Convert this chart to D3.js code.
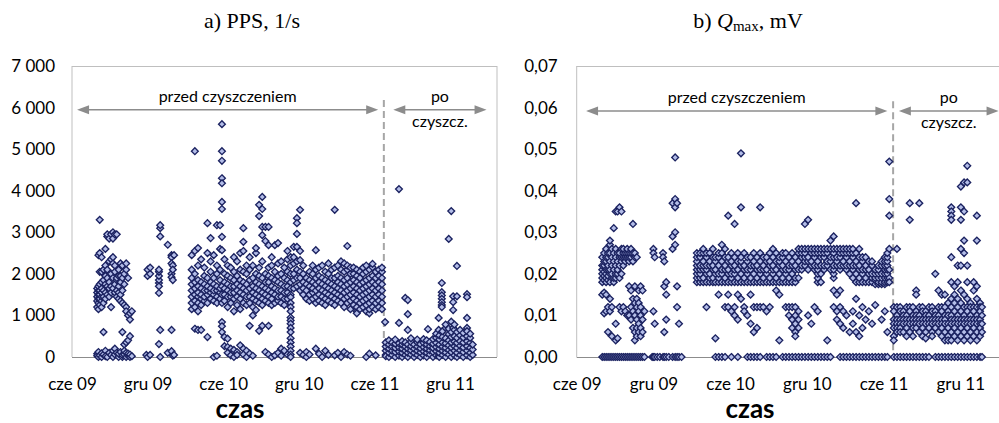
<!DOCTYPE html>
<html>
<head>
<meta charset="utf-8">
<script src="https://cdn.jsdelivr.net/npm/d3@7"></script>
<style>
  body { margin: 0; background: #fff; }
  svg { display: block; font-family: Lato, "Open Sans", sans-serif; }
</style>
</head>
<body>
<svg id="chart" width="999" height="423"></svg>
<script>
// months counted from June 2009 (cze 09 = 0)
const tickMonths = [0, 6, 12, 18, 24, 30]
const tickLabels = ['cze 09', 'gru 09', 'cze 10', 'gru 10', 'cze 11', 'gru 11']
const cleaningMonth = 24.75

const ppsTicks = [0, 1000, 2000, 3000, 4000, 5000, 6000, 7000]
const qmaxTicks = [0, 0.01, 0.02, 0.03, 0.04, 0.05, 0.06, 0.07]

// PPS, 1/s  -> [month, [values]]
const ppsLato09 = [
  [2.0, [1200, 1350, 1450, 1550, 1650, 80, 30]],
  [2.1, [1150, 1300, 1400, 1500, 1600, 1700, 2450, 0, 120]],
  [2.2, [3300, 1250, 1400, 1500, 1600, 1750, 2050, 2500, 40]],
  [2.35, [1200, 1350, 1450, 1550, 1650, 1800, 2050, 2400, 0, 90]],
  [2.5, [1300, 1450, 1600, 1850, 2100, 600, 60]],
  [2.65, [1400, 1550, 1750, 1950, 2200, 2600, 150, 20]],
  [2.8, [1500, 1700, 1900, 2100, 2900, 2950, 0]],
  [2.95, [1450, 1650, 1800, 2300, 2850, 100]],
  [3.1, [1550, 1700, 2000, 2350, 2950, 1200, 50]],
  [3.25, [1650, 1900, 2250, 2400, 2850, 3000, 0, 150]],
  [3.4, [1750, 1550, 2200, 2050, 2950, 200, 60]],
  [3.55, [1850, 1600, 1900, 2950, 1450, 100]],
  [3.7, [1700, 1950, 1550, 1400, 2100, 0, 80]],
  [3.85, [1800, 1500, 1350, 1950, 2250, 120]],
  [4.0, [1300, 1900, 2200, 1600, 600, 0, 50]],
  [4.15, [1250, 2000, 1750, 300, 60, 150]],
  [4.3, [1200, 2100, 2250, 1100, 350, 0, 100]],
  [4.45, [1000, 1900, 400, 30, 80]],
  [4.6, [900, 1050, 500, 0, 60]],
  [4.75, [1100, 20]]
]
const ppsZima09 = [
  [5.9, [50]],
  [6.0, [2100, 1950, 0]],
  [6.2, [2000, 2150, 50]],
  [6.9, [1780, 1850, 1950, 2050, 2100, 1700, 1540, 310]],
  [7.0, [2900, 3100, 3170, 650, 0]],
  [7.6, [2700, 100]],
  [7.9, [2450, 2400, 2250, 2000, 1920, 650, 140]],
  [8.0, [2200, 2100, 1850, 30]],
  [8.1, [2450, 50]]
]
const ppsPrzed = [
  [9.5, [1150, 1300, 1450, 1600, 1750, 1900, 2100, 2450]],
  [9.75, [1200, 1350, 1500, 1650, 1800, 2000, 2550, 4950, 680]],
  [10.0, [1100, 1300, 1450, 1550, 1700, 1850, 2200, 2620, 650]],
  [10.25, [1250, 1400, 1500, 1650, 1800, 2350, 650]],
  [10.5, [1350, 1450, 1600, 1750, 1950, 2150]],
  [10.75, [1300, 1500, 1600, 1700, 1900, 2500, 3220, 480]],
  [11.0, [1400, 1550, 1650, 1800, 2050, 2300, 2860]],
  [11.25, [1350, 1500, 1600, 1750, 1900, 2450, 0]],
  [11.5, [1300, 1450, 1600, 1700, 2000, 2200, 3170, 30]],
  [11.75, [1400, 1550, 1650, 1850, 2100, 2600, 3170]],
  [11.9, [5600, 4950, 4720, 4300, 4180, 3730, 3560, 2890, 2570, 1300, 1500, 1700, 840, 740, 600]],
  [12.1, [1350, 1500, 1650, 1800, 2000, 2350, 480, 260]],
  [12.35, [1200, 1450, 1600, 1750, 1950, 2200, 440, 240, 100]],
  [12.6, [1300, 1450, 1550, 1700, 1900, 2150, 200, 40]],
  [12.85, [1100, 1400, 1550, 1700, 1850, 2050, 2400, 170, 0]],
  [13.1, [1250, 1450, 1600, 1750, 1950, 2300, 120, 50]],
  [13.35, [1150, 1400, 1550, 1700, 1850, 2100, 2500, 280]],
  [13.6, [1300, 1500, 1650, 1800, 2050, 2550, 3100, 2770, 200, 60]],
  [13.85, [1250, 1450, 1600, 1750, 2000, 2200, 150, 0]],
  [14.1, [1300, 1450, 1650, 1850, 2100, 2400, 750, 80]],
  [14.35, [1200, 1400, 1550, 1700, 1900, 2200, 1000, 30]],
  [14.6, [1350, 1500, 1650, 1800, 2000, 2500, 2620, 1130]],
  [14.85, [1300, 1450, 1600, 1750, 1950, 2150, 630, 3660, 3390]],
  [15.1, [1250, 1400, 1550, 1700, 1900, 2300, 3850, 3560, 3130, 2930, 750]],
  [15.35, [1350, 1500, 1650, 1800, 2000, 2790, 3130, 120]],
  [15.6, [1300, 1450, 1600, 1800, 1950, 2150, 2690, 3130, 750, 60]],
  [15.85, [1250, 1400, 1550, 1700, 1900, 2200, 2400, 0]],
  [16.1, [1300, 1500, 1650, 1850, 2050, 2690, 40]],
  [16.35, [1350, 1450, 1600, 1800, 1950, 2250, 2740, 100]],
  [16.6, [1300, 1450, 1600, 1750, 2000, 2300, 200, 30]],
  [16.85, [1250, 1400, 1550, 1700, 1900, 2150, 150]],
  [17.1, [1400, 1550, 1700, 1850, 2050, 2350, 2550, 60]],
  [17.35, [1500, 1650, 1800, 2000, 2200, 2400, 1440, 1300, 1200, 1100, 950, 880, 800, 700, 600, 450, 350, 250, 150, 60, 0]],
  [17.6, [1650, 1850, 2000, 2250, 2650, 2400]],
  [17.85, [1700, 1900, 2100, 2300, 2960, 3340, 3220, 2650]],
  [18.1, [1600, 1750, 1900, 2050, 3540, 2550, 2330, 100]],
  [18.35, [1500, 1650, 1800, 2000, 2200, 50]],
  [18.6, [1400, 1600, 1750, 1900, 0, 120]],
  [18.85, [1350, 1500, 1700, 1850, 2050, 60]],
  [19.1, [1400, 1550, 1650, 1800, 2000, 2200]],
  [19.35, [1300, 1450, 1600, 1750, 1900, 2100, 2570, 200]],
  [19.6, [1350, 1500, 1650, 1800, 1950, 2150, 80]],
  [19.85, [1300, 1450, 1600, 1750, 1900, 2200, 0]],
  [20.1, [1250, 1400, 1550, 1700, 1850, 2050, 150]],
  [20.35, [1350, 1500, 1650, 1800, 2000, 2250, 50]],
  [20.6, [1300, 1450, 1600, 1750, 1900, 2100]],
  [20.85, [1250, 1400, 1550, 1700, 1900, 2150, 3540, 40]],
  [21.1, [1350, 1500, 1650, 1800, 1950, 2200, 100]],
  [21.35, [1300, 1450, 1600, 1750, 1900, 2100, 2300, 0]],
  [21.6, [1200, 1400, 1550, 1700, 1850, 2050, 2250, 120]],
  [21.85, [1300, 1450, 1600, 1750, 1900, 2100, 2200, 2670, 60]],
  [22.1, [1150, 1350, 1500, 1650, 1800, 2000, 2150, 30]],
  [22.35, [1250, 1400, 1550, 1700, 1850, 2000, 2150]],
  [22.6, [1100, 1200, 1350, 1500, 1650, 1800, 1950, 2100, 1050]],
  [22.85, [1150, 1300, 1450, 1600, 1750, 1900, 2050]],
  [23.1, [1200, 1350, 1500, 1650, 1800, 2000, 2150]],
  [23.35, [1100, 1250, 1400, 1550, 1700, 1850, 2050, 2200, 0]],
  [23.6, [1050, 1150, 1300, 1450, 1600, 1750, 1900, 2100, 80]],
  [23.85, [1200, 1350, 1500, 1650, 1800, 1950, 2160, 2240]],
  [24.1, [1150, 1300, 1450, 1600, 1750, 1900, 2050, 40]],
  [24.35, [1200, 1350, 1500, 1650, 1800, 1950, 2100]],
  [24.6, [1150, 1300, 1450, 1600, 1750, 1900, 2050, 2150]],
  [24.85, [840]]
]
const ppsPo = [
  [24.9, [50, 150, 250, 350, 20]],
  [25.15, [0, 100, 200, 300, 400]],
  [25.4, [50, 150, 250, 350]],
  [25.65, [0, 120, 220, 320, 420]],
  [25.95, [30, 130, 230, 330, 4040, 820]],
  [26.2, [0, 100, 200, 300, 380]],
  [26.45, [50, 150, 250, 350, 1420]],
  [26.65, [0, 100, 200, 300, 1370, 1030, 650]],
  [26.9, [60, 160, 260, 360, 450]],
  [27.15, [0, 100, 200, 300]],
  [27.4, [50, 150, 250, 350, 420]],
  [27.65, [0, 110, 210, 310]],
  [27.9, [40, 140, 240, 340, 430]],
  [28.15, [0, 100, 200, 300, 400]],
  [28.25, [670]],
  [28.4, [60, 160, 260, 360]],
  [28.65, [0, 120, 220, 320, 430]],
  [28.9, [40, 140, 240, 340, 460, 560]],
  [29.1, [940, 650, 20]],
  [29.15, [0, 100, 200, 300, 420, 520]],
  [29.35, [1780, 1560, 1480, 1400, 1320, 1250, 1200, 600]],
  [29.4, [50, 150, 250, 350, 480, 620]],
  [29.65, [0, 110, 220, 330, 450, 700, 780]],
  [29.9, [2840, 60, 170, 280, 400, 550, 680]],
  [30.1, [3510, 0, 120, 230, 350, 480, 600, 850]],
  [30.25, [1460, 1320, 1130, 700]],
  [30.35, [40, 150, 260, 370, 500, 650, 780]],
  [30.55, [2190, 1460, 0, 100, 220, 340, 460, 600]],
  [30.8, [50, 160, 270, 380, 520, 650]],
  [31.05, [0, 120, 230, 350, 470, 580]],
  [31.35, [1510, 1440, 940, 700, 40, 150, 260, 380, 500, 620]],
  [31.6, [0, 100, 220, 340, 460, 560]],
  [31.8, [50, 180, 300]]
]

// Qmax, mV -> [month, [values]]
const qmaxLato09 = [
  [2.0, [0.018, 0.019, 0.020, 0.021, 0.022, 0.024, 0.015, 0]],
  [2.15, [0.0185, 0.0195, 0.0205, 0.022, 0.023, 0.025, 0.0155, 0.0105, 0]],
  [2.3, [0.018, 0.019, 0.020, 0.021, 0.023, 0.024, 0.026, 0.015, 0.011, 0]],
  [2.45, [0.0185, 0.0195, 0.021, 0.022, 0.024, 0.025, 0.012, 0.006, 0]],
  [2.6, [0.018, 0.020, 0.021, 0.023, 0.025, 0.027, 0.028, 0.014, 0.011, 0]],
  [2.75, [0.019, 0.020, 0.022, 0.024, 0.026, 0.012, 0.005, 0]],
  [2.9, [0.018, 0.019, 0.021, 0.023, 0.025, 0.031, 0]],
  [3.05, [0.019, 0.020, 0.022, 0.024, 0.026, 0.035, 0.008, 0.004, 0]],
  [3.2, [0.020, 0.021, 0.023, 0.025, 0.035, 0.0045, 0]],
  [3.35, [0.019, 0.022, 0.024, 0.025, 0.036, 0.012, 0]],
  [3.5, [0.020, 0.023, 0.024, 0.026, 0.035, 0.011, 0]],
  [3.65, [0.022, 0.024, 0.025, 0.026, 0.012, 0]],
  [3.8, [0.023, 0.024, 0.025, 0.011, 0]],
  [3.95, [0.024, 0.025, 0.026, 0.010, 0]],
  [4.1, [0.023, 0.024, 0.025, 0.017, 0.010, 0]],
  [4.25, [0.024, 0.025, 0.026, 0.016, 0.012, 0.009, 0]],
  [4.4, [0.023, 0.025, 0.032, 0.014, 0.011, 0.007, 0]],
  [4.55, [0.024, 0.025, 0.017, 0.013, 0.010, 0.006, 0.004, 0]],
  [4.7, [0.024, 0.014, 0.012, 0.009, 0.007, 0.005, 0]],
  [4.85, [0.016, 0.013, 0.011, 0.008, 0.006, 0]],
  [5.0, [0.017, 0.012, 0.010, 0.007, 0.005, 0]],
  [5.15, [0.016, 0.009, 0.006, 0]],
  [5.3, [0.011, 0]]
]
const qmaxZima09 = [
  [5.9, [0]],
  [6.0, [0.026, 0.025, 0.011, 0]],
  [6.1, [0.024, 0.008, 0]],
  [6.3, [0]],
  [6.5, [0]],
  [6.75, [0.025, 0.024, 0]],
  [6.85, [0.023, 0.017, 0.006, 0]],
  [7.0, [0.018, 0.015, 0.009, 0]],
  [7.2, [0]],
  [7.5, [0.029, 0.026, 0.037, 0]],
  [7.7, [0.048, 0.038, 0.036, 0.030, 0.027, 0]],
  [7.85, [0.037, 0.017, 0.012, 0]],
  [8.0, [0.008, 0]],
  [8.2, [0]]
]
const qmaxPrzed = [
  [9.4, [0.018, 0.019, 0.020, 0.021, 0.022, 0.023, 0.024, 0.025]],
  [9.65, [0.018, 0.019, 0.020, 0.021, 0.022, 0.024, 0.025]],
  [9.9, [0.018, 0.019, 0.021, 0.022, 0.023, 0.025, 0.026]],
  [10.15, [0.018, 0.020, 0.021, 0.022, 0.024, 0.025, 0.012]],
  [10.4, [0.018, 0.019, 0.020, 0.022, 0.023, 0.025]],
  [10.65, [0.018, 0.019, 0.021, 0.022, 0.024, 0.026]],
  [10.85, [0.018, 0.020, 0.021, 0.023, 0.024, 0.0045, 0]],
  [11.1, [0.018, 0.019, 0.020, 0.022, 0.024, 0.025, 0.015, 0]],
  [11.35, [0.018, 0.020, 0.021, 0.023, 0.025, 0.027, 0]],
  [11.6, [0.018, 0.019, 0.021, 0.022, 0.024, 0.026, 0.012, 0]],
  [11.85, [0.018, 0.020, 0.021, 0.023, 0.024, 0.034, 0.015, 0.012]],
  [12.1, [0.018, 0.019, 0.020, 0.022, 0.023, 0.025, 0.011, 0]],
  [12.35, [0.018, 0.020, 0.021, 0.022, 0.024, 0.032, 0.012, 0.010]],
  [12.6, [0.018, 0.019, 0.021, 0.023, 0.025, 0.015, 0.009, 0]],
  [12.85, [0.018, 0.020, 0.022, 0.023, 0.024, 0.049, 0.036, 0.014]],
  [13.1, [0.018, 0.019, 0.021, 0.022, 0.025, 0.012, 0.011]],
  [13.35, [0.018, 0.020, 0.021, 0.023, 0.024, 0.010, 0]],
  [13.6, [0.018, 0.019, 0.021, 0.022, 0.024, 0.015, 0.008, 0]],
  [13.85, [0.018, 0.020, 0.022, 0.023, 0.025, 0.012, 0.006, 0]],
  [14.1, [0.018, 0.019, 0.021, 0.022, 0.024, 0.012, 0.007, 0]],
  [14.35, [0.018, 0.020, 0.021, 0.023, 0.025, 0.036, 0.012, 0]],
  [14.6, [0.018, 0.019, 0.021, 0.022, 0.024, 0.012]],
  [14.85, [0.018, 0.020, 0.021, 0.023, 0.024, 0.011, 0]],
  [15.1, [0.018, 0.019, 0.022, 0.023, 0.025, 0.012, 0]],
  [15.35, [0.018, 0.020, 0.021, 0.022, 0.024, 0.026, 0]],
  [15.6, [0.018, 0.019, 0.021, 0.023, 0.025, 0.016, 0]],
  [15.85, [0.018, 0.020, 0.022, 0.023, 0.024, 0.015, 0.004]],
  [16.1, [0.018, 0.019, 0.021, 0.022, 0.024, 0.025, 0]],
  [16.35, [0.018, 0.020, 0.021, 0.023, 0.025, 0.012, 0]],
  [16.6, [0.018, 0.019, 0.021, 0.022, 0.024, 0.012, 0.010, 0]],
  [16.85, [0.018, 0.020, 0.022, 0.023, 0.025, 0.012, 0.009, 0.007, 0]],
  [17.1, [0.018, 0.019, 0.021, 0.022, 0.024, 0.012, 0.010, 0.008, 0.006, 0.005, 0]],
  [17.35, [0.019, 0.021, 0.023, 0.025, 0.026, 0.011, 0.009, 0.007, 0]],
  [17.6, [0.021, 0.022, 0.024, 0.025, 0.026, 0]],
  [17.85, [0.022, 0.023, 0.024, 0.025, 0.026, 0.032, 0]],
  [18.1, [0.021, 0.023, 0.024, 0.026, 0.033, 0.010, 0]],
  [18.35, [0.022, 0.023, 0.025, 0.026, 0.008, 0]],
  [18.6, [0.021, 0.022, 0.024, 0.025, 0.026, 0.012, 0]],
  [18.85, [0.018, 0.019, 0.020, 0.021, 0.022, 0.023, 0.025, 0.026, 0.011, 0]],
  [19.1, [0.018, 0.020, 0.022, 0.024, 0.025, 0.026, 0]],
  [19.35, [0.021, 0.022, 0.024, 0.025, 0.026, 0]],
  [19.6, [0.022, 0.023, 0.025, 0.026, 0.004, 0]],
  [19.85, [0.021, 0.023, 0.024, 0.026, 0.028, 0]],
  [20.1, [0.019, 0.020, 0.021, 0.022, 0.024, 0.025, 0.026, 0.029, 0.016, 0.012]],
  [20.35, [0.022, 0.023, 0.024, 0.026, 0.015, 0.011, 0.009]],
  [20.6, [0.021, 0.022, 0.024, 0.025, 0.026, 0.016, 0.012, 0.008, 0]],
  [20.85, [0.022, 0.023, 0.025, 0.026, 0.011, 0.007, 0]],
  [21.1, [0.021, 0.022, 0.024, 0.025, 0.026, 0.010, 0]],
  [21.35, [0.020, 0.022, 0.023, 0.025, 0.026, 0.006, 0]],
  [21.6, [0.019, 0.021, 0.022, 0.024, 0.025, 0.026, 0.011, 0.008, 0]],
  [21.85, [0.018, 0.020, 0.022, 0.023, 0.025, 0.037, 0.014, 0.006, 0]],
  [22.1, [0.018, 0.019, 0.021, 0.022, 0.024, 0.026, 0.010, 0.005, 0]],
  [22.35, [0.018, 0.020, 0.021, 0.023, 0.024, 0.012, 0.007, 0]],
  [22.6, [0.018, 0.019, 0.021, 0.022, 0.024, 0.009, 0]],
  [22.85, [0.018, 0.020, 0.021, 0.023, 0.011, 0]],
  [23.1, [0.018, 0.019, 0.020, 0.022, 0.023, 0.008, 0]],
  [23.35, [0.0175, 0.0185, 0.019, 0.020, 0.021, 0.0125, 0]],
  [23.6, [0.0175, 0.018, 0.019, 0.020, 0.021, 0.022, 0]],
  [23.85, [0.0175, 0.018, 0.019, 0.020, 0.022, 0.023, 0.009, 0]],
  [24.1, [0.0175, 0.018, 0.019, 0.020, 0.021, 0.022, 0.023, 0.024, 0.011, 0]],
  [24.3, [0.018, 0.019, 0.020, 0.021, 0.022, 0.023, 0.024, 0.025, 0.006, 0]],
  [24.45, [0.047, 0.038, 0.034, 0.026, 0.021, 0.019, 0.018]]
]
const qmaxPo = [
  [24.8, [0.012, 0.011, 0.009, 0.008, 0.007, 0.005, 0.004, 0]],
  [25.05, [0.012, 0.010, 0.009, 0.008, 0.007, 0.006, 0.026, 0]],
  [25.3, [0.012, 0.011, 0.009, 0.008, 0.007, 0.006, 0]],
  [25.55, [0.011, 0.010, 0.009, 0.008, 0.006, 0]],
  [25.8, [0.012, 0.010, 0.009, 0.008, 0.007, 0.005, 0]],
  [26.05, [0.012, 0.011, 0.009, 0.008, 0.006, 0.037, 0.033, 0]],
  [26.3, [0.012, 0.010, 0.009, 0.008, 0.007, 0.005, 0]],
  [26.55, [0.011, 0.010, 0.009, 0.008, 0.007, 0.016, 0.015, 0]],
  [26.8, [0.012, 0.010, 0.009, 0.008, 0.006, 0.037, 0]],
  [27.05, [0.012, 0.011, 0.009, 0.008, 0.007, 0.005, 0]],
  [27.3, [0.011, 0.010, 0.009, 0.008, 0.006, 0.0045, 0]],
  [27.55, [0.012, 0.010, 0.009, 0.008, 0.007, 0]],
  [27.8, [0.012, 0.011, 0.009, 0.008, 0.006, 0.005]],
  [28.05, [0.011, 0.010, 0.009, 0.008, 0.007, 0.020, 0]],
  [28.3, [0.012, 0.010, 0.009, 0.008, 0.006, 0.016, 0]],
  [28.55, [0.012, 0.011, 0.009, 0.008, 0.007, 0.005, 0.015, 0]],
  [28.8, [0.012, 0.010, 0.009, 0.008, 0.006, 0.004, 0.015, 0]],
  [29.05, [0.013, 0.011, 0.010, 0.008, 0.007, 0.005, 0.004, 0]],
  [29.3, [0.014, 0.012, 0.010, 0.009, 0.008, 0.006, 0.004, 0.036, 0.035, 0.034, 0.033, 0.024, 0.018, 0]],
  [29.55, [0.015, 0.013, 0.011, 0.009, 0.008, 0.007, 0.005, 0.017, 0]],
  [29.8, [0.014, 0.012, 0.010, 0.009, 0.008, 0.006, 0.004, 0.022, 0.018, 0]],
  [30.05, [0.016, 0.013, 0.011, 0.009, 0.008, 0.007, 0.005, 0.041, 0.036, 0.033, 0.026, 0.022, 0]],
  [30.3, [0.015, 0.012, 0.010, 0.009, 0.008, 0.006, 0.004, 0.042, 0.035, 0.028, 0.025, 0]],
  [30.55, [0.014, 0.012, 0.011, 0.009, 0.008, 0.007, 0.005, 0.046, 0.042, 0.022, 0.018, 0]],
  [30.8, [0.013, 0.012, 0.010, 0.009, 0.008, 0.006, 0.004, 0]],
  [31.05, [0.016, 0.012, 0.011, 0.009, 0.008, 0.007, 0.005, 0.018, 0]],
  [31.3, [0.014, 0.012, 0.010, 0.009, 0.008, 0.006, 0.004, 0.034, 0.028, 0.017, 0]],
  [31.55, [0.013, 0.012, 0.011, 0.009, 0.008, 0.007, 0.005, 0]],
  [31.7, [0.012, 0.010, 0.008, 0.006, 0]]
]

const plLocale = d3.formatLocale({ decimal: ',', thousands: '\u00a0', grouping: [3], currency: ['', ''] })

const svg = d3.select('#chart')
const plotTop = 66, plotBottom = 357

const flatten = groups => groups.flatMap(([m, vals]) => vals.map(v => [m, v]))

const arrowHead = (g, x, y, dir) => {
  // dir = -1 points left, 1 points right
  g.append('path')
    .attr('d', `M${x},${y}L${x - dir * 12},${y - 4.5}L${x - dir * 12},${y + 4.5}Z`)
    .attr('fill', '#8c8c8c')
}

const drawPanel = p => {
  const g = svg.append('g')
  const x = d3.scaleLinear().domain([0, p.maxMonth]).range([p.left, p.right])
  const y = d3.scaleLinear().domain([0, p.yMax]).range([plotBottom, plotTop])

  // plot frame
  g.append('line').attr('x1', p.left).attr('x2', p.left).attr('y1', plotTop).attr('y2', plotBottom)
    .attr('stroke', '#bfbfbf')
  g.append('line').attr('x1', p.left).attr('x2', p.right).attr('y1', plotTop + 0.5).attr('y2', plotTop + 0.5)
    .attr('stroke', '#bfbfbf')
  if (p.rightBorder)
    g.append('line').attr('x1', p.right).attr('x2', p.right).attr('y1', plotTop).attr('y2', plotBottom)
      .attr('stroke', '#bfbfbf')

  const yAxis = g.append('g')
    .attr('transform', `translate(${p.left},0)`)
    .call(d3.axisLeft(y).tickValues(p.yTicks).tickSize(0).tickPadding(p.yPad).tickFormat(p.fmt))
  yAxis.select('.domain').remove()
  yAxis.selectAll('text').attr('font-size', 17).attr('font-family', 'Lato, sans-serif').attr('fill', '#000')

  const xAxis = g.append('g')
    .attr('transform', `translate(0,${plotBottom})`)
    .call(d3.axisBottom(x).tickValues(tickMonths).tickSize(0).tickPadding(21).tickFormat((d, i) => tickLabels[i]))
  xAxis.select('.domain').remove()
  xAxis.selectAll('text').attr('font-size', 17).attr('font-family', 'Lato, sans-serif').attr('fill', '#000')

  g.append('line').attr('x1', p.left).attr('x2', p.right).attr('y1', plotBottom + 0.5).attr('y2', plotBottom + 0.5)
    .attr('stroke', '#8c8c8c')

  g.append('text')
    .attr('x', p.czasX).attr('y', 418)
    .attr('text-anchor', 'middle')
    .attr('font-size', 26).attr('font-weight', 'bold')
    .text('czas')

  // cleaning marker and arrows
  const cx = x(cleaningMonth)
  g.append('line')
    .attr('x1', cx).attr('x2', cx).attr('y1', y(p.dashTop)).attr('y2', plotBottom)
    .attr('stroke', '#a6a6a6').attr('stroke-width', 2).attr('stroke-dasharray', '7,4')

  const ay = y(p.arrowY)
  const [a1, a2] = p.przedArrow.map(x)
  g.append('line').attr('x1', a1 + 6).attr('x2', a2 - 6).attr('y1', ay).attr('y2', ay)
    .attr('stroke', '#8c8c8c').attr('stroke-width', 1.5)
  arrowHead(g, a1, ay, -1)
  arrowHead(g, a2, ay, 1)
  const [b1, b2] = p.poArrow.map(x)
  g.append('line').attr('x1', b1 + 6).attr('x2', b2 - 6).attr('y1', ay).attr('y2', ay)
    .attr('stroke', '#8c8c8c').attr('stroke-width', 1.5)
  arrowHead(g, b1, ay, -1)
  arrowHead(g, b2, ay, 1)

  g.append('text').attr('x', (a1 + a2) / 2).attr('y', ay - 8)
    .attr('text-anchor', 'middle').attr('font-size', 16).text('przed czyszczeniem')
  g.append('text').attr('x', (b1 + b2) / 2).attr('y', ay - 8)
    .attr('text-anchor', 'middle').attr('font-size', 16).text('po')
  g.append('text').attr('x', (b1 + b2) / 2).attr('y', ay + 17)
    .attr('text-anchor', 'middle').attr('font-size', 16).text('czyszcz.')

  // points
  g.append('g').selectAll('path')
    .data(p.points)
    .enter()
    .append('path')
    .attr('d', 'M0,-3.4L3.4,0L0,3.4L-3.4,0Z')
    .attr('transform', d => `translate(${x(d[0])},${y(d[1])})`)
    .attr('fill', '#b3bde8')
    .attr('stroke', '#1b2260')
    .attr('stroke-width', 1.35)
}

drawPanel({
  left: 72, right: 497, maxMonth: 33.73, rightBorder: true,
  yMax: 7000, yTicks: ppsTicks, yPad: 17, fmt: plLocale.format(','),
  czasX: 240, dashTop: 6180, arrowY: 5950,
  przedArrow: [0.4, 24.3], poArrow: [25.5, 32.9],
  points: flatten([...ppsLato09, ...ppsZima09, ...ppsPrzed, ...ppsPo])
})

drawPanel({
  left: 576.7, right: 1000, maxMonth: 33.11, rightBorder: false,
  yMax: 0.07, yTicks: qmaxTicks, yPad: 19, fmt: plLocale.format('.2f'),
  czasX: 750, dashTop: 0.0615, arrowY: 0.0592,
  przedArrow: [0.73, 24.3], poArrow: [25.2, 33.0],
  points: flatten([...qmaxLato09, ...qmaxZima09, ...qmaxPrzed, ...qmaxPo])
})

// titles
const title = svg.append('g').attr('font-family', '"Liberation Serif", "DejaVu Serif", serif').attr('font-size', 22)
title.append('text').attr('x', 252).attr('y', 28).attr('text-anchor', 'middle').text('a) PPS, 1/s')
const tb = title.append('text').attr('x', 748).attr('y', 28).attr('text-anchor', 'middle')
tb.append('tspan').text('b) ')
tb.append('tspan').attr('font-style', 'italic').text('Q')
tb.append('tspan').attr('font-size', 15).attr('dy', 3).text('max')
tb.append('tspan').attr('dy', -3).text(', mV')
</script>
</body>
</html>
